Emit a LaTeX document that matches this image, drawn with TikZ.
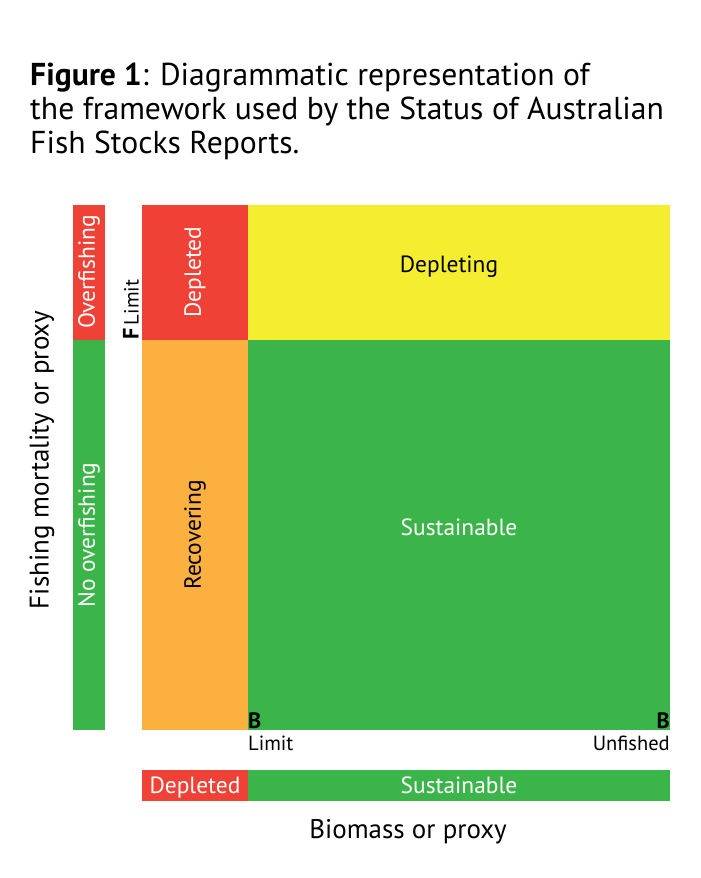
\documentclass[tikz,border=0pt]{standalone}
\usepackage{fontspec}
\setmainfont{PT Sans}
\usetikzlibrary{positioning}
\definecolor{stockred}{HTML}{EF4136}
\definecolor{stockyellow}{HTML}{F5EE30}
\definecolor{stockgreen}{HTML}{3BB54A}
\definecolor{stockorange}{HTML}{FBB040}
\tikzset{lbl/.style={inner sep=0pt,font=\fontsize{20}{24}\selectfont},
  wlbl/.style={lbl,text=white},
  small/.style={inner sep=0pt,font=\fontsize{17.5}{20}\selectfont},
  axis/.style={inner sep=0pt,font=\fontsize{23}{26}\selectfont}}

\begin{document}
\begin{tikzpicture}[x=0.03cm,y=-0.03cm]
    \useasboundingbox (0,0) rectangle (700,878);
    \node[anchor=north west,align=left,inner sep=0pt,font=\fontsize{27}{29}\selectfont] (title) at (30,63)
      {\textbf{Figure 1}: Diagrammatic representation of\\the framework used by the Status of Australian\\Fish Stocks Reports.};
    % left bar
    \fill[stockred] (73,205) rectangle (105,340); \fill[stockgreen] (73,340) rectangle (105,730);
    \node[wlbl,rotate=90] (over) at (89,272) {Overfishing};
    \node[wlbl,rotate=90] (noover) at (89,535) {No overfishing};
    % grid
    \fill[stockred] (142,205) rectangle (248,340); \fill[stockyellow] (248,205) rectangle (670,340);
    \fill[stockorange] (142,340) rectangle (248,730); \fill[stockgreen] (248,340) rectangle (670,730);
    \node[wlbl,rotate=90] (depl) at (195,272) {Depleted};
    \node[lbl] (depleting) at (449,267) {Depleting};
    \node[lbl,rotate=90] (recov) at (195,535) {Recovering};
    \node[wlbl] (sust) at (459,527) {Sustainable};
    % limits
    \node[small,rotate=90,anchor=south west] (flim) at (139,340) {\textbf{\fontsize{19}{20}\selectfont F}\,Limit};
    \node[small,anchor=south west,font=\fontsize{19}{20}\selectfont\bfseries] (blim) at (248,729) {B};
    \node[small,anchor=north west] (blimtxt) at (248,736) {Limit};
    \node[small,anchor=south east,font=\fontsize{19}{20}\selectfont\bfseries] (bunf) at (670,729) {B};
    \node[small,anchor=north east] (bunftxt) at (670,736) {Unfished};
    % bottom bar
    \fill[stockred] (142,770) rectangle (248,801); \fill[stockgreen] (248,770) rectangle (670,801);
    \node[wlbl,anchor=base] (bdepl) at (195,793) {Depleted};
    \node[wlbl,anchor=base] (bsust) at (459,793) {Sustainable};
    % axis titles
    \node[axis] (xlab) at (408,832) {Biomass or proxy};
    \node[axis,rotate=90] (ylab) at (42,460) {Fishing mortality or proxy};
  \end{tikzpicture}
\end{document}
